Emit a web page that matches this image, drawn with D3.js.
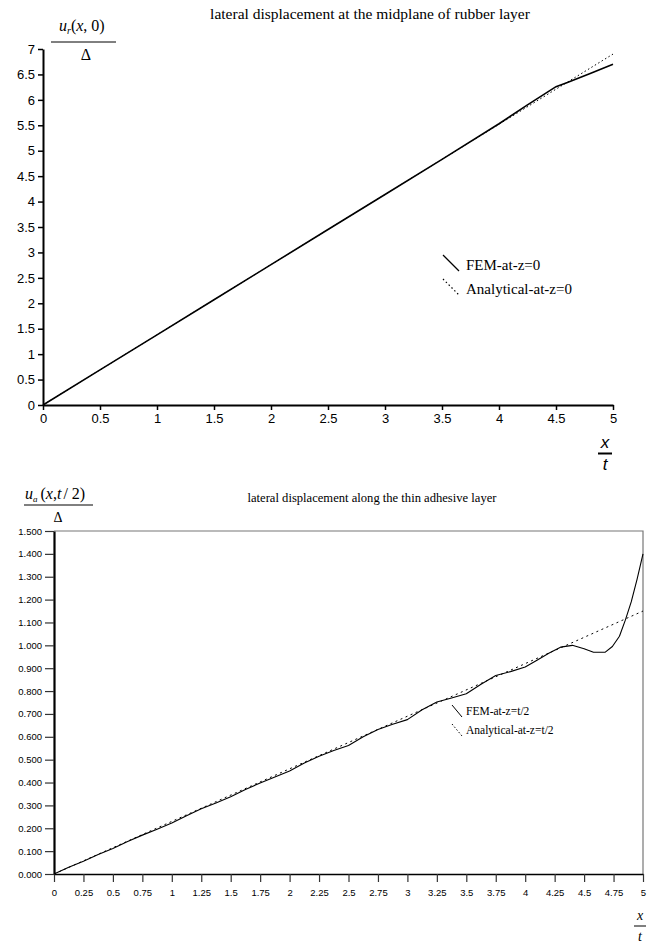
<!DOCTYPE html>
<html>
<head>
<meta charset="utf-8">
<script src="https://cdn.jsdelivr.net/npm/d3@7"></script>
<style>
  body { margin: 0; background: #fff; }
  svg { display: block; }
  .serif { font-family: "Liberation Serif", "Times New Roman", serif; }
  .sans  { font-family: "Liberation Sans", Arial, sans-serif; }
</style>
</head>
<body>
<div id="chart"></div>
<script>
// ---- data: upper chart (rubber layer, z = 0) ----
var topFemX = [0, 0.5, 1, 1.5, 2, 2.5, 3, 3.5, 4, 4.25, 4.5, 4.6, 4.8, 5];
var topFemY = [0, 0.69, 1.38, 2.07, 2.76, 3.45, 4.14, 4.83, 5.53, 5.90, 6.26, 6.34, 6.52, 6.70];
var topAnaX = [0, 1, 2, 3, 4, 5];
var topAnaY = [0, 1.38, 2.76, 4.14, 5.52, 6.90];
var topYTicks = [0, 0.5, 1, 1.5, 2, 2.5, 3, 3.5, 4, 4.5, 5, 5.5, 6, 6.5, 7];
var topXTicks = [0, 0.5, 1, 1.5, 2, 2.5, 3, 3.5, 4, 4.5, 5];

// ---- data: lower chart (adhesive layer, z = t/2) ----
var botFemX = [0, 0.125, 0.25, 0.375, 0.5, 0.625, 0.75, 0.875, 1, 1.125, 1.25, 1.375,
               1.5, 1.625, 1.75, 1.875, 2, 2.125, 2.25, 2.375, 2.5, 2.625, 2.75, 2.875,
               3, 3.125, 3.25, 3.375, 3.5, 3.625, 3.75, 3.875, 4, 4.1, 4.2, 4.3, 4.4,
               4.5, 4.58, 4.62, 4.68, 4.74, 4.8, 4.85, 4.9, 4.95, 5];
var botFemY = [0, 0.030, 0.056, 0.085, 0.112, 0.142, 0.170, 0.196, 0.223, 0.255, 0.285, 0.311,
               0.338, 0.370, 0.398, 0.424, 0.450, 0.485, 0.515, 0.540, 0.562, 0.600, 0.632, 0.655,
               0.675, 0.718, 0.752, 0.770, 0.788, 0.830, 0.868, 0.885, 0.905, 0.935, 0.965, 0.992, 1.000,
               0.985, 0.970, 0.970, 0.970, 0.995, 1.040, 1.110, 1.190, 1.290, 1.400];
var botAnaX = [0, 1, 2, 3, 4, 5];
var botAnaY = [0, 0.23, 0.46, 0.69, 0.92, 1.15];
var botYTicks = [0, 0.1, 0.2, 0.3, 0.4, 0.5, 0.6, 0.7, 0.8, 0.9, 1.0, 1.1, 1.2, 1.3, 1.4, 1.5];
var botXTicks = [0, 0.25, 0.5, 0.75, 1, 1.25, 1.5, 1.75, 2, 2.25, 2.5, 2.75, 3, 3.25, 3.5,
                 3.75, 4, 4.25, 4.5, 4.75, 5];

var svg = d3.select('#chart').append('svg')
            .attr('width', 651)
            .attr('height', 947);

function zip(xs, ys) {
  return xs.map(function(x, i) { return [x, ys[i]]; });
}

// ================= upper chart =================
var xTop = d3.scaleLinear().domain([0, 5]).range([43, 613]);
var yTop = d3.scaleLinear().domain([0, 7]).range([405, 49]);

var gTop = svg.append('g');

var topYAxis = gTop.append('g')
  .attr('transform', 'translate(43,0)')
  .call(d3.axisLeft(yTop).tickValues(topYTicks).tickFormat(d3.format('')).tickSize(5).tickSizeOuter(0).tickPadding(3));

var topXAxis = gTop.append('g')
  .attr('transform', 'translate(0,405)')
  .call(d3.axisBottom(xTop).tickValues(topXTicks).tickFormat(d3.format('')).tickSize(5).tickSizeOuter(0).tickPadding(4));

[topYAxis, topXAxis].forEach(function(ax) {
  ax.selectAll('text').attr('font-size', 13).attr('fill', '#000')
    .attr('font-family', '"Liberation Sans", Arial, sans-serif');
  ax.select('.domain').attr('stroke-width', 2);
  ax.selectAll('.tick line').attr('stroke-width', 1.5);
});

var lineTop = d3.line()
  .x(function(d) { return xTop(d[0]); })
  .y(function(d) { return yTop(d[1]); });

gTop.append('path')
  .datum(zip(topAnaX, topAnaY))
  .attr('d', lineTop)
  .attr('fill', 'none')
  .attr('stroke', '#000')
  .attr('stroke-width', 1)
  .attr('stroke-dasharray', '1.5,2.5');

gTop.append('path')
  .datum(zip(topFemX, topFemY))
  .attr('d', lineTop)
  .attr('fill', 'none')
  .attr('stroke', '#000')
  .attr('stroke-width', 1.6);

// title
gTop.append('text')
  .attr('class', 'serif')
  .attr('x', 370).attr('y', 19)
  .attr('text-anchor', 'middle')
  .attr('font-size', 15.5)
  .text('lateral displacement at the midplane of rubber layer');

// y label  u_r(x, 0) / Δ
var yLabTop = gTop.append('text')
  .attr('class', 'serif')
  .attr('x', 59).attr('y', 31)
  .attr('font-size', 16);
yLabTop.append('tspan').attr('font-style', 'italic').text('u');
yLabTop.append('tspan').attr('font-style', 'italic').attr('font-size', 10).attr('dy', 3).text('r');
yLabTop.append('tspan').attr('dy', -3).text('(');
yLabTop.append('tspan').attr('font-style', 'italic').text('x');
yLabTop.append('tspan').text(', 0)');

gTop.append('line')
  .attr('x1', 51).attr('x2', 116).attr('y1', 42).attr('y2', 42)
  .attr('stroke', '#000').attr('stroke-width', 1);

gTop.append('text')
  .attr('class', 'serif')
  .attr('x', 86).attr('y', 60)
  .attr('text-anchor', 'middle')
  .attr('font-size', 16)
  .text('Δ');

// x label  x / t
gTop.append('text')
  .attr('class', 'sans')
  .attr('x', 605).attr('y', 448)
  .attr('text-anchor', 'middle')
  .attr('font-size', 17)
  .attr('font-style', 'italic')
  .text('x');
gTop.append('line')
  .attr('x1', 598).attr('x2', 612).attr('y1', 453.5).attr('y2', 453.5)
  .attr('stroke', '#000').attr('stroke-width', 2);
gTop.append('text')
  .attr('class', 'sans')
  .attr('x', 605).attr('y', 470)
  .attr('text-anchor', 'middle')
  .attr('font-size', 17)
  .attr('font-style', 'italic')
  .text('t');

// legend
gTop.append('line')
  .attr('x1', 443).attr('y1', 255).attr('x2', 459).attr('y2', 271)
  .attr('stroke', '#000').attr('stroke-width', 1.2);
gTop.append('line')
  .attr('x1', 443).attr('y1', 279).attr('x2', 459).attr('y2', 295)
  .attr('stroke', '#000').attr('stroke-width', 1.2).attr('stroke-dasharray', '1.5,2.5');
gTop.append('text')
  .attr('class', 'serif').attr('x', 466).attr('y', 270).attr('font-size', 15)
  .text('FEM-at-z=0');
gTop.append('text')
  .attr('class', 'serif').attr('x', 466).attr('y', 294).attr('font-size', 15)
  .text('Analytical-at-z=0');

// ================= lower chart =================
var xBot = d3.scaleLinear().domain([0, 5]).range([54, 643]);
var yBot = d3.scaleLinear().domain([0, 1.5]).range([874, 531]);

var gBot = svg.append('g');

// frame (top and right)
gBot.append('path')
  .attr('d', 'M' + xBot(0) + ',' + yBot(1.5) + 'H' + xBot(5) + 'V' + yBot(0))
  .attr('fill', 'none')
  .attr('stroke', '#777')
  .attr('stroke-width', 1.2);

var botYAxis = gBot.append('g')
  .attr('transform', 'translate(54,0)')
  .call(d3.axisLeft(yBot).tickValues(botYTicks).tickFormat(d3.format('.3f')).tickSize(9).tickSizeOuter(0).tickPadding(3));

var botXAxis = gBot.append('g')
  .attr('transform', 'translate(0,874)')
  .call(d3.axisBottom(xBot).tickValues(botXTicks).tickFormat(d3.format('')).tickSize(8).tickSizeOuter(0).tickPadding(7));

[botYAxis, botXAxis].forEach(function(ax) {
  ax.selectAll('text').attr('font-size', 9.5).attr('fill', '#000')
    .attr('font-family', '"Liberation Sans", Arial, sans-serif');
  ax.selectAll('.tick line').attr('stroke', '#333').attr('stroke-width', 1.2);
});
botYAxis.select('.domain').attr('stroke-width', 2.2);
botXAxis.select('.domain').attr('stroke-width', 1.5);

var lineBot = d3.line()
  .x(function(d) { return xBot(d[0]); })
  .y(function(d) { return yBot(d[1]); });

gBot.append('path')
  .datum(zip(botAnaX, botAnaY))
  .attr('d', lineBot)
  .attr('fill', 'none')
  .attr('stroke', '#000')
  .attr('stroke-width', 1)
  .attr('stroke-dasharray', '2,3.5');

gBot.append('path')
  .datum(zip(botFemX, botFemY))
  .attr('d', lineBot)
  .attr('fill', 'none')
  .attr('stroke', '#000')
  .attr('stroke-width', 1.1)
  .attr('stroke-linejoin', 'round');

// title
gBot.append('text')
  .attr('class', 'serif')
  .attr('x', 372).attr('y', 502)
  .attr('text-anchor', 'middle')
  .attr('font-size', 12.6)
  .text('lateral displacement along the thin adhesive layer');

// y label  u_a(x,t/2) / Δ
var yLabBot = gBot.append('text')
  .attr('class', 'serif')
  .attr('x', 25).attr('y', 499)
  .attr('font-size', 16);
yLabBot.append('tspan').attr('font-style', 'italic').text('u');
yLabBot.append('tspan').attr('font-style', 'italic').attr('font-size', 9).attr('dy', 3).text('a');
yLabBot.append('tspan').attr('dy', -3).attr('dx', 3).text('(');
yLabBot.append('tspan').attr('font-style', 'italic').text('x');
yLabBot.append('tspan').text(',');
yLabBot.append('tspan').attr('font-style', 'italic').text('t');
yLabBot.append('tspan').attr('dx', 2).text('/ 2)');

gBot.append('line')
  .attr('x1', 24).attr('x2', 93).attr('y1', 505).attr('y2', 505)
  .attr('stroke', '#000').attr('stroke-width', 1);

gBot.append('text')
  .attr('class', 'serif')
  .attr('x', 58).attr('y', 522)
  .attr('text-anchor', 'middle')
  .attr('font-size', 14)
  .text('Δ');

// x label  x / t
gBot.append('text')
  .attr('class', 'serif')
  .attr('x', 640).attr('y', 920)
  .attr('text-anchor', 'middle')
  .attr('font-size', 14)
  .attr('font-style', 'italic')
  .text('x');
gBot.append('line')
  .attr('x1', 634).attr('x2', 646).attr('y1', 926).attr('y2', 926)
  .attr('stroke', '#000').attr('stroke-width', 1);
gBot.append('text')
  .attr('class', 'serif')
  .attr('x', 640).attr('y', 941)
  .attr('text-anchor', 'middle')
  .attr('font-size', 14)
  .attr('font-style', 'italic')
  .text('t');

// legend
gBot.append('line')
  .attr('x1', 452).attr('y1', 705).attr('x2', 462).attr('y2', 717)
  .attr('stroke', '#000').attr('stroke-width', 1);
gBot.append('line')
  .attr('x1', 452).attr('y1', 724).attr('x2', 462).attr('y2', 736)
  .attr('stroke', '#000').attr('stroke-width', 1).attr('stroke-dasharray', '1.5,2');
gBot.append('text')
  .attr('class', 'serif').attr('x', 466).attr('y', 715).attr('font-size', 11.5)
  .text('FEM-at-z=t/2');
gBot.append('text')
  .attr('class', 'serif').attr('x', 466).attr('y', 734).attr('font-size', 11.5)
  .text('Analytical-at-z=t/2');
</script>
</body>
</html>
